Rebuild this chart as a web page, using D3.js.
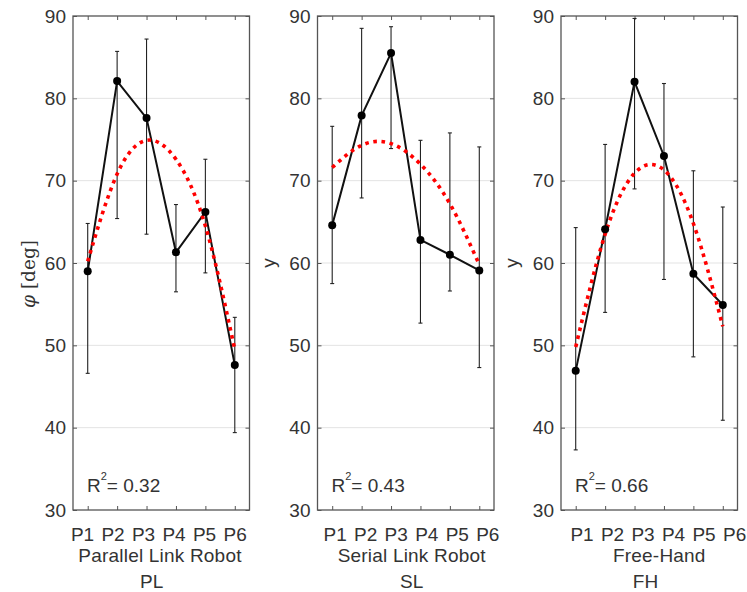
<!DOCTYPE html>
<html>
<head>
<meta charset="utf-8">
<script src="https://cdn.jsdelivr.net/npm/d3@7"></script>
<style>
body { margin: 0; background: #fff; }
text { font-family: "Liberation Sans", Arial, sans-serif; fill: #333; }
</style>
</head>
<body>
<svg id="chart"></svg>
<script>
// data
const categories = ['P1', 'P2', 'P3', 'P4', 'P5', 'P6'];
const panelNames = ['Parallel Link Robot', 'Serial Link Robot', 'Free-Hand'];
const panelCodes = ['PL', 'SL', 'FH'];
const yTicks = [30, 40, 50, 60, 70, 80, 90];
const r2Values = ['0.32', '0.43', '0.66'];

const plMean = [59.0, 82.1, 77.6, 61.3, 66.2, 47.6];
const plLow  = [46.6, 65.4, 63.5, 56.5, 58.8, 39.4];
const plHigh = [64.8, 85.7, 87.2, 67.1, 72.6, 53.4];
const plFit  = [60.2, 70.8, 74.9, 72.6, 64.5, 49.5];

const slMean = [64.6, 77.9, 85.5, 62.8, 61.0, 59.1];
const slLow  = [57.5, 67.9, 73.9, 52.7, 56.6, 47.3];
const slHigh = [76.6, 88.5, 88.7, 74.9, 75.8, 74.1];
const slFit  = [71.6, 74.3, 74.5, 72.0, 67.2, 59.8];

const fhMean = [46.9, 64.1, 82.0, 73.0, 58.7, 54.9];
const fhLow  = [37.3, 54.0, 69.0, 58.0, 48.6, 40.9];
const fhHigh = [64.3, 74.4, 89.7, 81.8, 71.2, 66.8];
const fhFit  = [49.8, 63.5, 70.9, 71.3, 64.8, 52.3];

const panels = [
    {mean: plMean, low: plLow, high: plHigh, fit: plFit},
    {mean: slMean, low: slLow, high: slHigh, fit: slFit},
    {mean: fhMean, low: fhLow, high: fhHigh, fit: fhFit}
];

let svgWidth = 747, svgHeight = 592;
let plotTop = 16, plotBottom = 510, panelW = 176.5;
let panelLeft = [73, 317.5, 561];
// centers of the three text lines below each panel
let labelCenters = [[158.8, 160, 151.7], [411.5, 411.7, 411.7], [658.3, 659.3, 645.5]];
let fontSize = 19;

let svg = d3.select('#chart')
    .attr('width', svgWidth)
    .attr('height', svgHeight);

svg.append('rect')
    .attr('width', svgWidth)
    .attr('height', svgHeight)
    .attr('fill', '#fff');

let y = d3.scaleLinear().domain([30, 90]).range([plotBottom, plotTop]);

panels.forEach(function(p, k) {
    let left = panelLeft[k];
    let x = d3.scaleLinear().domain([0.5, 6.5]).range([left, left + panelW]);
    let xs = categories.map((c, i) => i + 1);
    let g = svg.append('g');

    // grid
    g.selectAll('.grid')
        .data(yTicks.slice(1, -1))
        .enter()
        .append('line')
        .attr('x1', left).attr('x2', left + panelW)
        .attr('y1', d => y(d)).attr('y2', d => y(d))
        .attr('stroke', '#e3e3e3')
        .attr('stroke-width', 1);

    // axes, ticks pointing inward
    let axL = g.append('g')
        .attr('transform', 'translate(' + left + ',0)')
        .call(d3.axisLeft(y).tickValues(yTicks).tickSizeInner(-4).tickSizeOuter(0).tickPadding(7));
    axL.selectAll('text').attr('font-size', fontSize).attr('font-family', '"Liberation Sans", Arial, sans-serif').style('fill', '#333');

    g.append('g')
        .attr('transform', 'translate(' + (left + panelW) + ',0)')
        .call(d3.axisRight(y).tickValues(yTicks).tickSizeInner(-4).tickSizeOuter(0).tickFormat(''));
    g.append('g')
        .attr('transform', 'translate(0,' + plotBottom + ')')
        .call(d3.axisBottom(x).tickValues(xs).tickSizeInner(-4).tickSizeOuter(0).tickFormat(''));
    g.append('g')
        .attr('transform', 'translate(0,' + plotTop + ')')
        .call(d3.axisTop(x).tickValues(xs).tickSizeInner(-4).tickSizeOuter(0).tickFormat(''));

    g.selectAll('.domain').remove();
    g.selectAll('.tick line').attr('stroke', '#555').attr('stroke-width', 1);

    g.append('rect')
        .attr('x', left).attr('y', plotTop)
        .attr('width', panelW).attr('height', plotBottom - plotTop)
        .attr('fill', 'none')
        .attr('stroke', '#555')
        .attr('stroke-width', 1.3);

    // error bars
    let bars = g.selectAll('.err')
        .data(p.mean.map((m, i) => ({x: i + 1, lo: p.low[i], hi: p.high[i]})))
        .enter()
        .append('g');
    bars.append('line')
        .attr('x1', d => x(d.x)).attr('x2', d => x(d.x))
        .attr('y1', d => y(d.lo)).attr('y2', d => y(d.hi))
        .attr('stroke', '#222').attr('stroke-width', 1.1);
    bars.append('line')
        .attr('x1', d => x(d.x) - 2).attr('x2', d => x(d.x) + 2)
        .attr('y1', d => y(d.lo)).attr('y2', d => y(d.lo))
        .attr('stroke', '#222').attr('stroke-width', 1.1);
    bars.append('line')
        .attr('x1', d => x(d.x) - 2).attr('x2', d => x(d.x) + 2)
        .attr('y1', d => y(d.hi)).attr('y2', d => y(d.hi))
        .attr('stroke', '#222').attr('stroke-width', 1.1);

    // mean line
    let line = d3.line().x((d, i) => x(i + 1)).y(d => y(d));
    g.append('path')
        .attr('d', line(p.mean))
        .attr('fill', 'none')
        .attr('stroke', '#111')
        .attr('stroke-width', 2);

    // fit curve
    let fitLine = d3.line().x((d, i) => x(i + 1)).y(d => y(d)).curve(d3.curveNatural);
    g.append('path')
        .attr('d', fitLine(p.fit))
        .attr('fill', 'none')
        .attr('stroke', '#ff0000')
        .attr('stroke-width', 3.6)
        .attr('stroke-dasharray', '3.6,4.6');

    g.selectAll('.pt')
        .data(p.mean)
        .enter()
        .append('circle')
        .attr('cx', (d, i) => x(i + 1))
        .attr('cy', d => y(d))
        .attr('r', 4)
        .attr('fill', '#000');

    // R^2 label
    let r2 = g.append('text').attr('x', left + 14).attr('y', 492).attr('font-size', fontSize);
    r2.append('tspan').text('R');
    r2.append('tspan').attr('dy', -12).attr('font-size', 11).text('2');
    r2.append('tspan').attr('dy', 12).text('= ' + r2Values[k]);

    // labels below
    let c = labelCenters[k];
    g.append('text').attr('x', c[0]).attr('y', 541).attr('text-anchor', 'middle')
        .attr('font-size', fontSize).attr('word-spacing', 2).text(categories.join(' '));
    g.append('text').attr('x', c[1]).attr('y', 561.5).attr('text-anchor', 'middle')
        .attr('font-size', fontSize).attr('letter-spacing', 0.2).text(panelNames[k]);
    g.append('text').attr('x', c[2]).attr('y', 588).attr('text-anchor', 'middle')
        .attr('font-size', fontSize).text(panelCodes[k]);

    // y label
    if (k === 0) {
        let t = g.append('text')
            .attr('transform', 'translate(' + (left - 38) + ',274) rotate(-90)')
            .attr('text-anchor', 'middle')
            .style('font-family', '"DejaVu Serif", serif')
            .attr('font-size', 18.5);
        t.append('tspan').style('font-style', 'italic').text('φ');
        t.append('tspan').text(' [deg]');
    } else {
        g.append('text')
            .attr('transform', 'translate(' + (left - 43) + ',263) rotate(-90)')
            .attr('text-anchor', 'middle')
            .attr('font-size', fontSize)
            .text('y');
    }
});
</script>
</body>
</html>
